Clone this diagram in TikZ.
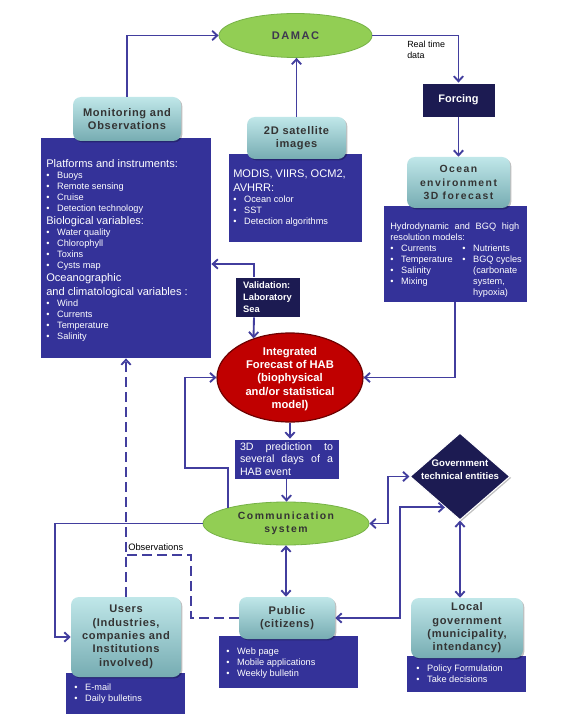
\documentclass[tikz,border=0pt]{standalone}
\usepackage{fontspec}
\setmainfont{Liberation Sans}
\newfontfamily\spcA[LetterSpace=6]{Liberation Sans}
\newfontfamily\spcB[LetterSpace=14]{Liberation Sans}
\usetikzlibrary{shapes.geometric,arrows.meta,shadows}
\definecolor{linec}{RGB}{66,62,158}
\definecolor{boxblue}{RGB}{52,50,153}
\definecolor{navy}{RGB}{28,27,82}
\definecolor{tealtop}{RGB}{192,231,233}
\definecolor{tealbot}{RGB}{118,172,178}
\definecolor{tealtext}{RGB}{52,52,52}
\definecolor{damtext}{RGB}{62,56,80}
\definecolor{grn}{RGB}{146,206,84}
\definecolor{grnd}{RGB}{118,178,70}
\definecolor{hred}{RGB}{192,0,0}
\definecolor{hredd}{RGB}{110,0,0}
\newcommand\pxl{0.75pt}
\newcommand\hd[1]{{\spaceskip=0pt\xspaceskip=0pt\fontsize{8.3}{10}\selectfont #1\par}}
\newcommand\bl[1]{{\spaceskip=0pt\xspaceskip=0pt\fontsize{6.9}{8.25}\selectfont\makebox[8.2pt][l]{\textbullet}#1\par}}
\newcommand\bc[1]{{\spaceskip=0pt\xspaceskip=0pt\fontsize{6.9}{8.25}\selectfont\makebox[8.2pt][l]{}#1\par}}
\tikzset{
  shad/.style={drop shadow={shadow xshift=1pt,shadow yshift=-1pt,fill=black,opacity=0.25}},
  bluebox/.style={rectangle,fill=boxblue,draw=white,line width=0.6pt,shad,inner sep=0pt},
  navybox/.style={rectangle,fill=navy,draw=white,line width=0.6pt,shad,inner sep=0pt,text=white,font={\bfseries\fontsize{8.2}{10}\selectfont}},
  tealbox/.style={rectangle,rounded corners=6pt,top color=tealtop,bottom color=tealbot,draw=none,shad,inner sep=0pt,align=center,text=tealtext,font={\spcA\bfseries\fontsize{8.3}{10}\selectfont}},
  tealwide/.style={tealbox,font={\spcB\bfseries\fontsize{7.8}{10}\selectfont}},
  greenell/.style={ellipse,fill=grn,draw=grnd,line width=0.6pt,inner sep=0pt,align=center,text=tealtext,font={\spcB\bfseries\fontsize{7.8}{10}\selectfont}},
  redell/.style={ellipse,fill=hred,draw=hredd,line width=0.9pt,inner sep=0pt},
  govd/.style={diamond,fill=navy,draw=white,line width=0.8pt,shad,inner sep=0pt},
  txt/.style={inner sep=0pt,text=white,align=left,text width=120pt},
  lbl/.style={inner sep=0pt,text=black,align=left,font={\fontsize{6.7}{7.8}\selectfont}},
  arr/.style={draw=linec,line width=1.4pt,-{Straight Barb[length=3.8pt,width=7pt]}},
  darr/.style={draw=linec,line width=1.4pt,{Straight Barb[length=3.8pt,width=7pt]}-{Straight Barb[length=3.8pt,width=7pt]}},
  dsh/.style={draw=linec,line width=1.4pt,dash pattern=on 7.5pt off 3.75pt}
}
\begin{document}
\begin{tikzpicture}[x=0.75pt,y=-0.75pt]
\useasboundingbox (0,0) rectangle (578,720);
\fill[white] (0,0) rectangle (578,720);

% blue boxes (behind teal headers)
\node[bluebox,minimum width=171*\pxl,minimum height=221*\pxl] (monb) at (125.5,247.5) {};
\node[bluebox,minimum width=134*\pxl,minimum height=89*\pxl] (satb) at (295,197.5) {};
\node[bluebox,minimum width=144*\pxl,minimum height=97*\pxl] (oceb) at (455,253.5) {};
\node[bluebox,minimum width=120*\pxl,minimum height=42*\pxl] (useb) at (125,693) {};
\node[bluebox,minimum width=140*\pxl,minimum height=53*\pxl] (pubb) at (288,661.5) {};
\node[bluebox,minimum width=120*\pxl,minimum height=37*\pxl] (locb) at (466,673.5) {};

% teal headers
\node[tealbox,minimum width=108*\pxl,minimum height=44*\pxl] (mont) at (127,119) {Monitoring and\\Observations};
\node[tealbox,minimum width=99*\pxl,minimum height=42*\pxl] (satt) at (296.5,138) {2D satellite\\images};
\node[tealwide,minimum width=103*\pxl,minimum height=51*\pxl] (ocet) at (458.5,182.5) {Ocean\\environment\\3D forecast};
\node[tealbox,minimum width=110*\pxl,minimum height=80*\pxl] (uset) at (126,637) {Users\\(Industries,\\companies and\\Institutions\\involved)};
\node[tealbox,minimum width=96*\pxl,minimum height=42*\pxl] (pubt) at (287,618) {Public\\(citizens)};
\node[tealbox,minimum width=112*\pxl,minimum height=60*\pxl] (loct) at (467,628) {Local\\government\\(municipality,\\intendancy)};

% box texts
\node[txt,anchor=north west] (monbt) at (46,159) {%
\hd{Platforms and instruments:}
\bl{Buoys}\bl{Remote sensing}\bl{Cruise}\bl{Detection technology}
\hd{Biological variables:}
\bl{Water quality}\bl{Chlorophyll}\bl{Toxins}\bl{Cysts map}
\hd{Oceanographic}\hd{and climatological variables :}
\bl{Wind}\bl{Currents}\bl{Temperature}\bl{Salinity}};
\node[txt,anchor=north west] (satbt) at (233,170) {%
\hd{MODIS, VIIRS, OCM2,}\hd{AVHRR:}
\bl{Ocean color}\bl{SST}\bl{Detection algorithms}};
\node[txt,anchor=north west,text width=129*\pxl] (ocebt) at (390,222.6) {%
{\fontsize{6.9}{8.25}\selectfont Hydrodynamic\hfill and\hfill BGQ\hfill high\par}\bc{\hspace{-8.2pt}resolution models:}};
\node[txt,anchor=north west,text width=70pt] (ocebl) at (390,244.6) {%
\bl{Currents}\bl{Temperature}\bl{Salinity}\bl{Mixing}};
\node[txt,anchor=north west,text width=70pt] (ocebr) at (462,244.6) {%
\bl{Nutrients}\bl{BGQ cycles}\bc{(carbonate}\bc{system,}\bc{hypoxia)}};
\node[txt,anchor=north west] (usebt) at (74,683.6) {\bl{E-mail}\bl{Daily bulletins}};
\node[txt,anchor=north west] (pubbt) at (226,647.6) {\bl{Web page}\bl{Mobile applications}\bl{Weekly bulletin}};
\node[txt,anchor=north west] (locbt) at (416,664.6) {\bl{Policy Formulation}\bl{Take decisions}};

% other nodes
\node[greenell,minimum width=153*\pxl,minimum height=44*\pxl,text=damtext,font={\spcB\bfseries\fontsize{8.3}{10}\selectfont}] (damac) at (295.5,35.5) {DAMAC};
\node[navybox,minimum width=73*\pxl,minimum height=34*\pxl] (forc) at (458.5,100) {Forcing};
\node[navybox,minimum width=65*\pxl,minimum height=40*\pxl,align=left,font={\bfseries\fontsize{7}{9}\selectfont}] (val) at (267.5,297) {Validation:\\Laboratory\\Sea};
\node[redell,minimum width=146*\pxl,minimum height=89*\pxl] (red) at (290,377.5) {};
\node[inner sep=0pt,align=center,text=white,font={\bfseries\fontsize{8.4}{10}\selectfont}] (redt) at (290,379) {Integrated\\Forecast of HAB\\(biophysical\\and/or statistical\\model)};
\node[bluebox,minimum width=105*\pxl,minimum height=40*\pxl,text width=93*\pxl,align=justify,text=white,font={\fontsize{8}{9.5}\selectfont}] (pred) at (286.5,459) {3D\hfill prediction\hfill to\\several\hfill days\hfill of\hfill a\\HAB event};
\node[greenell,minimum width=166*\pxl,minimum height=43*\pxl] (comm) at (286,523.5) {Communication\\system};
\node[govd,minimum width=100*\pxl,minimum height=87*\pxl] (gov) at (460,476.5) {};
\node[inner sep=0pt,align=center,text=white,font={\bfseries\fontsize{7.2}{9.75}\selectfont}] (govt) at (460,470) {Government\\technical entities};

% labels
\node[lbl,anchor=north west] (rtd) at (407,41) {Real time\\data};
\node[lbl,anchor=west,font={\fontsize{7}{8}\selectfont}] (obs) at (128,547) {Observations};

% coordinates for bends
\coordinate (vb) at (254,264);
\coordinate (hb) at (185,468);
\coordinate (lb) at (55,600);
\coordinate (rb) at (388,500);
\coordinate (rb2) at (400,560);
\coordinate (obsj) at (126,555);
\coordinate (db) at (191,590);

% connectors
\draw[arr] (mont.north) |- (damac.west);
\draw[arr] (damac.east) -| (forc.north);
\draw[arr] (forc.south) -- (forc.south |- ocet.north);
\draw[arr] (satt.north) -- (satt.north |- damac.south);
\draw[arr] (val.north -| vb) -- (vb) -- (vb -| monb.east);
\draw[arr] (val.south -| vb) -- (red.133);
\draw[arr] (oceb.south) |- (red.east);
\draw[arr] (comm.165) |- (hb) |- (red.west);
\draw[arr] (red.south) -- (red.south |- pred.north);
\draw[arr] (pred.south) -- (pred.south |- comm.north);
\draw[arr] (comm.west) -| (lb) |- (uset.west);
\draw[darr] (comm.south) -- (comm.south |- pubt.north);
\draw[darr] (comm.east) -| (rb) |- (gov.west);
\draw[darr] (pubt.east) -| (rb2) |- (gov.244);
\draw[darr] (gov.south) -- (gov.south |- loct.north);
\draw[dsh,-{Straight Barb[length=3.8pt,width=7pt]}] (uset.north) -- (uset.north |- monb.south);
\draw[dsh] (pubt.west) -| (db) |- (obsj);
\end{tikzpicture}
\end{document}
